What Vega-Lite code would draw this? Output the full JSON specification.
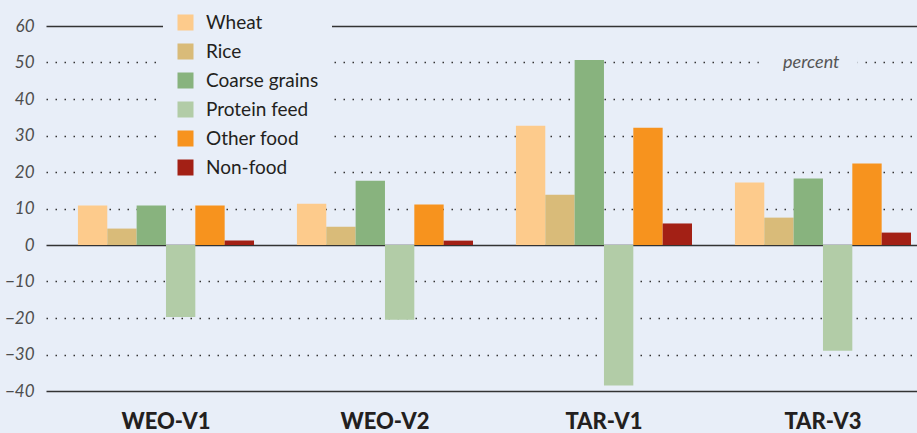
{
  "$schema": "https://vega.github.io/schema/vega-lite/v6.json",
  "width": 871,
  "height": 365,
  "autosize": {"type": "none"},
  "padding": {"left": 46, "top": 26, "right": 0, "bottom": 42},
  "background": "#E8EEF8",
  "config": {"view": {"stroke": null}, "font": "Lato"},
  "encoding": {
    "x": {
      "field": "scenario", "type": "nominal",
      "sort": ["WEO-V1", "WEO-V2", "TAR-V1", "TAR-V3"],
      "scale": {"domain": ["WEO-V1", "WEO-V2", "TAR-V1", "TAR-V3"], "paddingInner": 0.196, "paddingOuter": 0.0866, "align": 0.842},
      "axis": {
        "title": null, "domain": false, "ticks": false, "labelAngle": 0,
        "labelFont": "Lato", "labelFontSize": 22, "labelFontWeight": 900,
        "labelColor": "#231F20", "labelPadding": 20
      }
    },
    "xOffset": {
      "field": "item", "type": "nominal",
      "sort": ["Wheat", "Rice", "Coarse grains", "Protein feed", "Other food", "Non-food"],
      "scale": {"domain": ["Wheat", "Rice", "Coarse grains", "Protein feed", "Other food", "Non-food"], "paddingInner": 0, "paddingOuter": 0}
    },
    "y": {
      "field": "value", "type": "quantitative",
      "scale": {"domain": [-40, 60], "nice": false},
      "axis": {
        "title": null, "domain": false, "ticks": false,
        "values": [-40, -30, -20, -10, 0, 10, 20, 30, 40, 50, 60],
        "labelFont": "Lato", "labelFontSize": 17, "labelFontStyle": "italic",
        "labelColor": "#4D4D4D", "labelPadding": 12,
        "gridColor": "#333333",
        "gridDash": {"condition": {"test": "datum.value === 0 || datum.value === 60 || datum.value === -40", "value": []}, "value": [1.5, 7.5]},
        "gridWidth": {"condition": {"test": "datum.value === 0 || datum.value === 60 || datum.value === -40", "value": 1.6}, "value": 1.5}
      }
    }
  },
  "layer": [
    {
      "data": {"values": [
        {"scenario": "WEO-V1", "item": "Wheat", "value": 10.8},
        {"scenario": "WEO-V1", "item": "Rice", "value": 4.5},
        {"scenario": "WEO-V1", "item": "Coarse grains", "value": 10.8},
        {"scenario": "WEO-V1", "item": "Protein feed", "value": -19.7},
        {"scenario": "WEO-V1", "item": "Other food", "value": 10.8},
        {"scenario": "WEO-V1", "item": "Non-food", "value": 1.2},
        {"scenario": "WEO-V2", "item": "Wheat", "value": 11.3},
        {"scenario": "WEO-V2", "item": "Rice", "value": 5.0},
        {"scenario": "WEO-V2", "item": "Coarse grains", "value": 17.6},
        {"scenario": "WEO-V2", "item": "Protein feed", "value": -20.5},
        {"scenario": "WEO-V2", "item": "Other food", "value": 11.1},
        {"scenario": "WEO-V2", "item": "Non-food", "value": 1.2},
        {"scenario": "TAR-V1", "item": "Wheat", "value": 32.7},
        {"scenario": "TAR-V1", "item": "Rice", "value": 13.8},
        {"scenario": "TAR-V1", "item": "Coarse grains", "value": 50.7},
        {"scenario": "TAR-V1", "item": "Protein feed", "value": -38.5},
        {"scenario": "TAR-V1", "item": "Other food", "value": 32.1},
        {"scenario": "TAR-V1", "item": "Non-food", "value": 5.9},
        {"scenario": "TAR-V3", "item": "Wheat", "value": 17.1},
        {"scenario": "TAR-V3", "item": "Rice", "value": 7.5},
        {"scenario": "TAR-V3", "item": "Coarse grains", "value": 18.2},
        {"scenario": "TAR-V3", "item": "Protein feed", "value": -29.0},
        {"scenario": "TAR-V3", "item": "Other food", "value": 22.3},
        {"scenario": "TAR-V3", "item": "Non-food", "value": 3.4}
      ]},
      "mark": {"type": "bar"},
      "encoding": {
        "color": {
          "field": "item", "type": "nominal",
          "scale": {
            "domain": ["Wheat", "Rice", "Coarse grains", "Protein feed", "Other food", "Non-food"],
            "range": ["#FDCB8C", "#D9BB79", "#88B37E", "#B2CCA7", "#F7931E", "#A32015"]
          },
          "legend": {
            "title": null, "orient": "none", "legendX": 117, "legendY": -26,
            "fillColor": "#E8EEF8", "padding": 13,
            "symbolType": "square", "symbolSize": 256, "symbolStrokeWidth": 0, "symbolOpacity": 1,
            "labelFont": "Lato", "labelFontSize": 19, "labelColor": "#231F20",
            "labelOffset": 11, "rowPadding": 9
          }
        }
      }
    },
    {
      "data": {"values": [{"scenario": "TAR-V3", "item": "Coarse grains", "value": 48.3, "value2": 51.7}]},
      "mark": {"type": "bar", "width": 99, "color": "#E8EEF8"},
      "encoding": {
        "y2": {"field": "value2"}
      }
    },
    {
      "data": {"values": [{"scenario": "TAR-V3", "item": "Coarse grains", "value": 50, "t": "percent"}]},
      "mark": {"type": "text", "font": "Lato", "fontSize": 18, "fontStyle": "italic", "color": "#555555", "align": "center", "baseline": "middle", "dx": 3},
      "encoding": {
        "text": {"field": "t"}
      }
    }
  ]
}
